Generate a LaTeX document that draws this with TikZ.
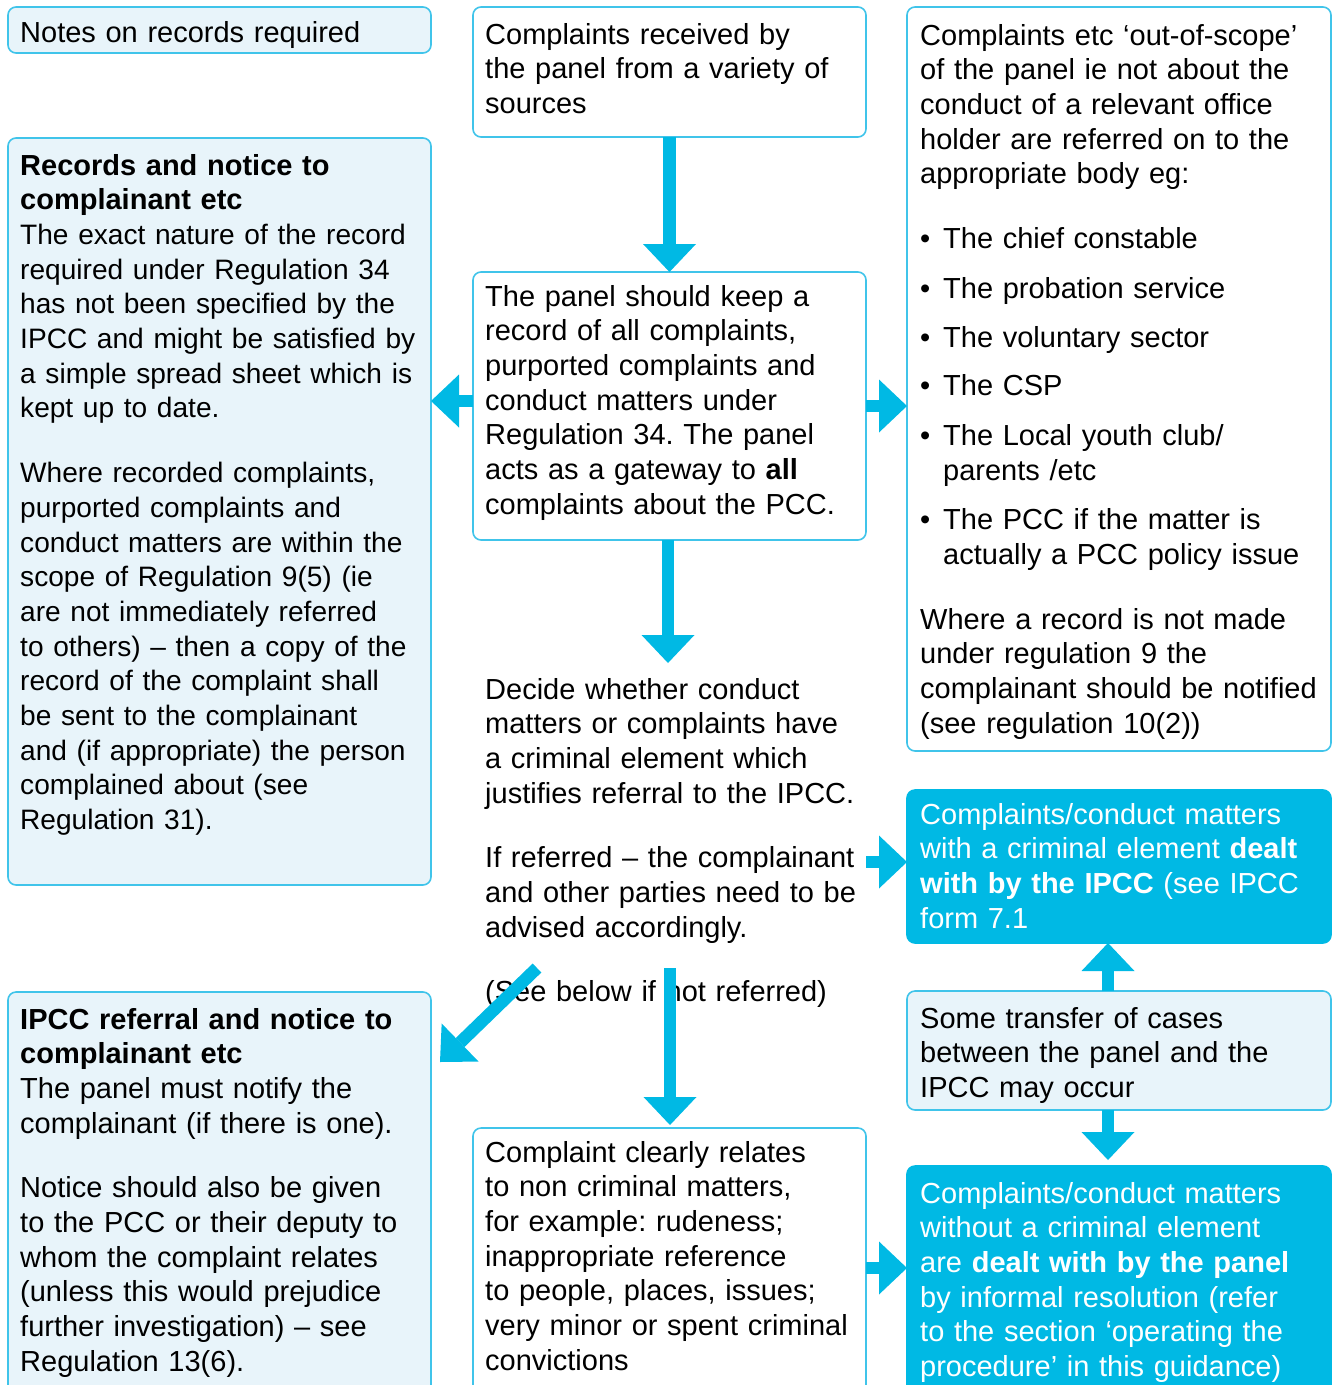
\documentclass[tikz,border=0pt]{standalone}
\usepackage{fontspec}
\setmainfont{Liberation Sans}
\usetikzlibrary{arrows.meta, positioning, calc}
\definecolor{ipccblue}{RGB}{0,185,228}
\definecolor{ipccline}{RGB}{64,196,234}
\definecolor{ipccpale}{RGB}{232,244,250}

\tikzset{
  panel/.style={draw=ipccline, line width=1.6pt, rounded corners=8pt, anchor=north west, inner sep=0pt, outer sep=0pt},
  palepanel/.style={panel, fill=ipccpale},
  whitepanel/.style={panel, fill=white},
  bluepanel/.style={panel, draw=ipccblue, fill=ipccblue},
  txt/.style={anchor=base west, inner sep=0pt, align=left, text width=410pt, font=\fontsize{29}{34.7}\selectfont\frenchspacing},
  flow/.style={draw=ipccblue, line width=12.5pt, -{Triangle[width=53pt, length=28pt, line width=0pt]}},
}
\newcommand{\bul}{\makebox[23pt][l]{\textbullet}}
\newcommand{\smallbody}{\fontsize{28.1}{34.7}\selectfont}

\begin{document}
\begin{tikzpicture}[x=1pt, y=-1pt]
  \useasboundingbox (0,0) rectangle (1333,1385);
  \clip (0,0) rectangle (1333,1385);

  % boxes
  \node[palepanel, minimum width=423pt, minimum height=46pt] (notes) at (8,7) {};
  \node[whitepanel, minimum width=393pt, minimum height=130pt] (source) at (473,7) {};
  \node[whitepanel, minimum width=424pt, minimum height=744pt] (scope) at (907,7) {};
  \node[palepanel, minimum width=423pt, minimum height=747pt] (records) at (8,138) {};
  \node[whitepanel, minimum width=393pt, minimum height=268pt] (keep) at (473,272) {};
  \node[bluepanel, minimum width=424pt, minimum height=153pt] (ipcc) at (907,790) {};
  \node[palepanel, minimum width=424pt, minimum height=119pt] (transfer) at (907,991) {};
  \node[bluepanel, minimum width=424pt, minimum height=240pt] (panel) at (907,1166) {};
  \node[palepanel, minimum width=423pt, minimum height=410pt] (referral) at (8,992) {};
  \node[whitepanel, minimum width=393pt, minimum height=280pt] (noncrim) at (473,1128) {};

  % texts
  \node[txt] (notes-t) at (20,42) {Notes on records required};
  \node[txt] (source-t) at (485,44) {Complaints received by\\
    the panel from a variety of\\
    sources};
  \node[txt] (scope-t) at (920,45) {Complaints etc `out-of-scope'\\
    of the panel ie not about the\\
    conduct of a relevant office\\
    holder are referred on to the\\
    appropriate body eg:\\[30pt]
    \bul The chief constable\\[15pt]
    \bul The probation service\\[15pt]
    \bul The voluntary sector\\[13pt]
    \bul The CSP\\[15pt]
    \bul The Local youth club/\\
    \hspace*{23pt}parents /etc\\[15pt]
    \bul The PCC if the matter is\\
    \hspace*{23pt}actually a PCC policy issue\\[30pt]
    Where a record is not made\\
    under regulation 9 the\\
    complainant should be notified\\
    (see regulation 10(2))};
  \node[txt] (records-t) at (20,175) {\textbf{Records and notice to}\\
    \textbf{complainant etc}\\
    \smallbody The exact nature of the record\\
    required under Regulation 34\\
    has not been specified by the\\
    IPCC and might be satisfied by\\
    a simple spread sheet which is\\
    kept up to date.\\[30pt]
    Where recorded complaints,\\
    purported complaints and\\
    conduct matters are within the\\
    scope of Regulation 9(5) (ie\\
    are not immediately referred\\
    to others) -- then a copy of the\\
    record of the complaint shall\\
    be sent to the complainant\\
    and (if appropriate) the person\\
    complained about (see\\
    Regulation 31).};
  \node[txt] (keep-t) at (485,306) {The panel should keep a\\
    record of all complaints,\\
    purported complaints and\\
    conduct matters under\\
    Regulation 34. The panel\\
    acts as a gateway to \textbf{all}\\
    complaints about the PCC.};
  \node[txt] (decide) at (485,699) {Decide whether conduct\\
    matters or complaints have\\
    a criminal element which\\
    justifies referral to the IPCC.\\[30pt]
    If referred -- the complainant\\
    and other parties need to be\\
    advised accordingly.\\[30pt]
    (See below if not referred)};
  \node[txt, text=white] (ipcc-t) at (920,824) {Complaints/conduct matters\\
    with a criminal element \textbf{dealt}\\
    \textbf{with by the IPCC} (see IPCC\\
    form 7.1};
  \node[txt] (transfer-t) at (920,1028) {Some transfer of cases\\
    between the panel and the\\
    IPCC may occur};
  \node[txt, text=white] (panel-t) at (920,1203) {Complaints/conduct matters\\
    without a criminal element\\
    are \textbf{dealt with by the panel}\\
    by informal resolution (refer\\
    to the section `operating the\\
    procedure' in this guidance)};
  \node[txt] (referral-t) at (20,1029) {\textbf{IPCC referral and notice to}\\
    \textbf{complainant etc}\\
    The panel must notify the\\
    complainant (if there is one).\\[30pt]
    Notice should also be given\\
    to the PCC or their deputy to\\
    whom the complaint relates\\
    (unless this would prejudice\\
    further investigation) -- see\\
    Regulation 13(6).};
  \node[txt] (noncrim-t) at (485,1162) {Complaint clearly relates\\
    to non criminal matters,\\
    for example: rudeness;\\
    inappropriate reference\\
    to people, places, issues;\\
    very minor or spent criminal\\
    convictions};

  % free arrow ends
  \coordinate (decide-top) at (668,663);
  \coordinate (refer-out) at (866,862);
  \coordinate (see-left) at (537,968);
  \coordinate (see-tip) at (440,1062);
  \coordinate (see-down) at (670,968);

  % arrows
  \draw[flow] (source.south) -- (keep.north);
  \draw[flow] ([yshift=5pt]keep.west) -- ([yshift=5pt]keep.west -| records.east);
  \draw[flow] (keep.east) -- (keep.east -| scope.west);
  \draw[flow] (keep.south -| decide-top) -- (decide-top);
  \draw[flow] (refer-out) -- (refer-out -| ipcc.west);
  \draw[flow] ([xshift=-11pt]transfer.north) -- ([xshift=-11pt]ipcc.south);
  \draw[flow, shorten >=6pt] ([xshift=-11pt]transfer.south) -- ([xshift=-11pt]panel.north);
  \draw[flow] (see-left) -- (see-tip);
  \draw[flow, shorten >=3pt] (see-down) -- (see-down |- noncrim.north);
  \draw[flow] (noncrim.east) -- (noncrim.east -| panel.west);
\end{tikzpicture}
\end{document}
